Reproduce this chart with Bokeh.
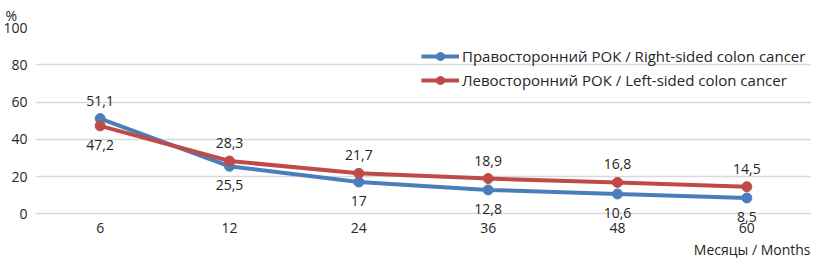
from bokeh.plotting import figure
from bokeh.models import ColumnDataSource, FactorRange, FixedTicker, LabelSet, Label, Legend, LegendItem, Title
from bokeh.core.properties import value
from bokeh.embed import file_html
from bokeh.resources import INLINE

months = ["6", "12", "24", "36", "48", "60"]
right_sided = [51.1, 25.5, 17.0, 12.8, 10.6, 8.5]
left_sided = [47.2, 28.3, 21.7, 18.9, 16.8, 14.5]
right_labels = ["51,1", "25,5", "17", "12,8", "10,6", "8,5"]
left_labels = ["47,2", "28,3", "21,7", "18,9", "16,8", "14,5"]
y_ticks = [0, 20, 40, 60, 80, 100]

FONT = "Open Sans"
FS = "14px"
TXT = "#262626"
BLUE = "#4A7EBB"
RED = "#BE4B48"

p = figure(width=811, height=260, x_range=FactorRange(*months), y_range=(-25.1, 100),
           output_backend="svg", toolbar_location=None, min_border=0,
           min_border_left=32, min_border_right=0, min_border_top=22, min_border_bottom=0)
p.outline_line_color = None
p.background_fill_color = "white"

src_r = ColumnDataSource(dict(x=months, y=right_sided, t=right_labels,
                              off=[18] + [-19] * 5))
src_l = ColumnDataSource(dict(x=months, y=left_sided, t=left_labels,
                              off=[-19] + [18] * 5))

lr = p.line("x", "y", source=src_r, line_color=BLUE, line_width=4)
cr = p.scatter("x", "y", source=src_r, size=10, fill_color=BLUE, line_color=BLUE)
ll = p.line("x", "y", source=src_l, line_color=RED, line_width=4)
cl = p.scatter("x", "y", source=src_l, size=10, fill_color=RED, line_color=RED)

for src in (src_r, src_l):
    p.add_layout(LabelSet(x="x", y="y", text="t", y_offset="off", source=src,
                          text_align="center", text_baseline="middle",
                          text_font=value(FONT), text_font_size=value(FS), text_color=TXT))

legend = Legend(items=[
    LegendItem(label="Правосторонний РОК / Right-sided colon cancer", renderers=[lr, cr]),
    LegendItem(label="Левосторонний РОК / Left-sided colon cancer", renderers=[ll, cl]),
], location=(386, 170))
legend.background_fill_alpha = 0
legend.border_line_color = None
legend.label_text_font = FONT
legend.label_text_font_size = "15px"
legend.label_text_color = TXT
legend.glyph_width = 38
legend.glyph_height = 20
legend.spacing = 4
legend.margin = 0
legend.padding = 0
legend.label_standoff = 3
p.add_layout(legend)

p.yaxis.ticker = FixedTicker(ticks=y_ticks)
p.ygrid.ticker = FixedTicker(ticks=y_ticks)
p.ygrid.grid_line_color = "#D9D9D9"
p.ygrid.grid_line_width = 1.5
p.xgrid.grid_line_color = None
for ax in (p.xaxis, p.yaxis):
    ax.axis_line_color = None
    ax.major_tick_line_color = None
    ax.minor_tick_line_color = None
    ax.major_tick_out = 0
    ax.major_label_text_font = FONT
    ax.major_label_text_font_size = FS
    ax.major_label_text_color = TXT
p.yaxis.major_label_standoff = 8
p.xaxis.fixed_location = 0
p.xaxis.major_label_standoff = 9

p.add_layout(Title(text="%", align="left", offset=-30, standoff=6, text_font=FONT,
                   text_font_size=FS, text_font_style="normal", text_color=TXT), "above")
p.add_layout(Label(x=len(months), y=0, x_offset=-1, y_offset=-36, text="Месяцы / Months",
                   text_align="right", text_baseline="middle",
                   text_font=FONT, text_font_size=FS, text_color=TXT))

open("out.html", "w").write(file_html(p, INLINE))
